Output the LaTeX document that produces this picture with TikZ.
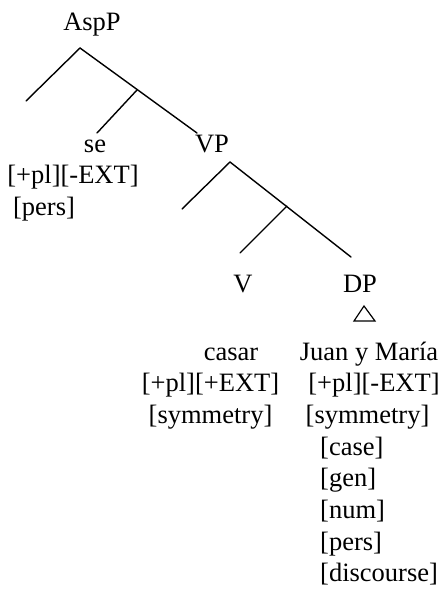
\documentclass[tikz,border=0pt]{standalone}
\usepackage{fontspec}
\setmainfont{Liberation Serif}
\begin{document}
\begin{tikzpicture}[x=1pt,y=-1pt,
  lbl/.style={inner sep=0pt,anchor=base,font=\fontsize{26.5}{31.7}\selectfont},
  lblw/.style={lbl,anchor=base west},
  branch/.style={line width=1.4pt,line cap=round},
  tri/.style={line width=1.2pt,line join=miter}]
\useasboundingbox (0,0) rectangle (442,592);

% category labels
\node[lbl] (asp) at (92,30) {AspP};
\node[lbl] (vp) at (212,152) {VP};
\node[lbl] (v) at (243,292) {V};
\node[lbl] (dp) at (360,292) {DP};

% AspP branching
\coordinate (aspTop) at (80,48);
\coordinate (aspL) at (26,101);
\coordinate (aspR) at (197,133);
\coordinate (aspMid) at (137,90);
\coordinate (seTop) at (97,133);
\draw[branch] (aspL) -- (aspTop) -- (aspR);
\draw[branch] (aspMid) -- (seTop);

% VP branching
\coordinate (vpTop) at (230,162);
\coordinate (vpL) at (182,209);
\coordinate (vpR) at (351,257);
\coordinate (vpMid) at (287,206);
\coordinate (vTop) at (240,253);
\draw[branch] (vpL) -- (vpTop) -- (vpR);
\draw[branch] (vpMid) -- (vTop);

% triangle under DP
\coordinate (triA) at (364,306);
\coordinate (triB) at (354,321);
\coordinate (triC) at (375,321);
\draw[tri] (triA) -- (triB) -- (triC) -- cycle;

% clitic and its features
\node[lbl] (se) at (95,152) {se};
\node[lbl] (seF1) at (73,183.7) {[+pl][-EXT]};
\node[lbl] (seF2) at (44,215.4) {[pers]};

% verb and its features
\node[lbl] (casar) at (231,360) {casar};
\node[lbl] (casF1) at (210.5,391.7) {[+pl][+EXT]};
\node[lbl] (casF2) at (210.5,423.4) {[symmetry]};

% DP content and its features
\node[lbl] (juan) at (369,360) {Juan y María};
\node[lbl] (dpF1) at (374,391.7) {[+pl][-EXT]};
\node[lbl] (dpF2) at (367.5,423.4) {[symmetry]};
\node[lblw] (dpF3) at (320,455.1) {[case]};
\node[lblw] (dpF4) at (320,486.8) {[gen]};
\node[lblw] (dpF5) at (320,518.5) {[num]};
\node[lblw] (dpF6) at (320,550.2) {[pers]};
\node[lblw] (dpF7) at (320,581.9) {[discourse]};
\end{tikzpicture}
\end{document}
